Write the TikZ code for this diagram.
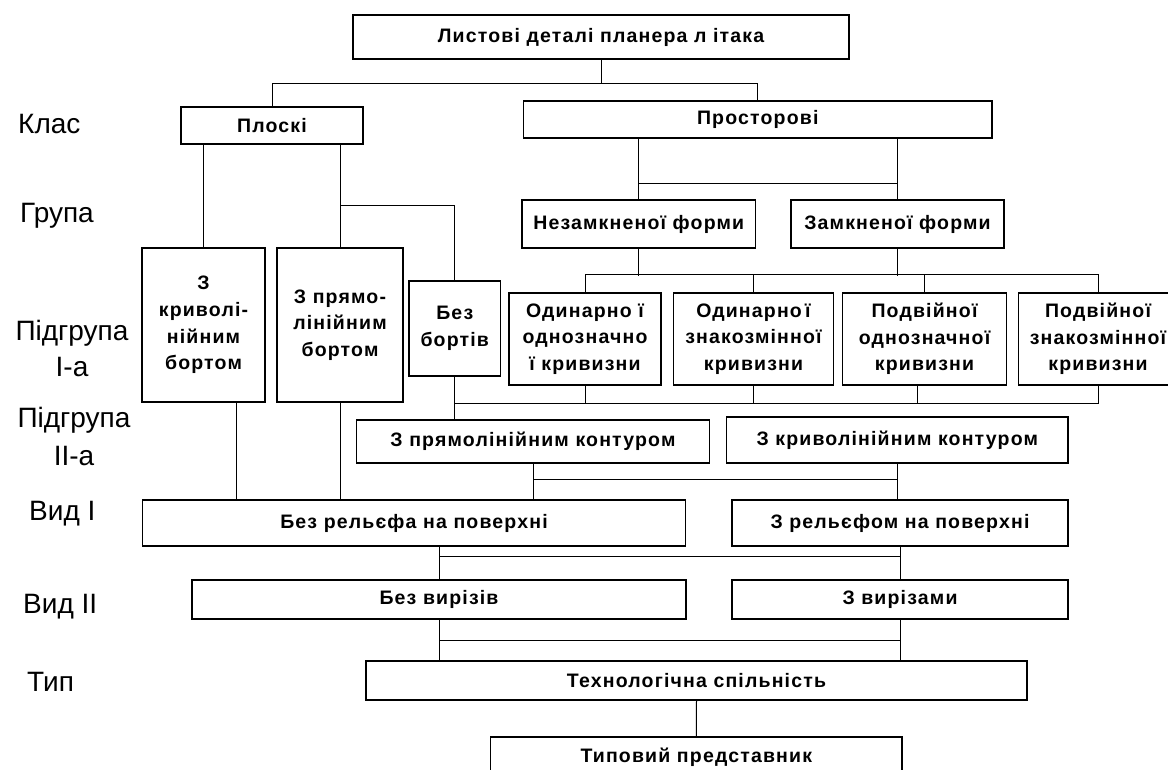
\documentclass[tikz,border=0pt]{standalone}
\usepackage{fontspec}
\setmainfont{Liberation Sans}
\newfontfamily\boxfont{Liberation Sans}[LetterSpace=6]
\usetikzlibrary{calc}

\begin{document}
\begin{tikzpicture}[x=1pt,y=-1pt,
  box/.style={draw, line width=1.1pt, inner sep=0pt, align=center,
    font=\boxfont\bfseries\fontsize{19.5pt}{26.7pt}\selectfont},
  lbl/.style={inner sep=0pt, font=\fontsize{28pt}{32pt}\selectfont},
  wire/.style={line width=1pt}]
\useasboundingbox (0,0) rectangle (1168,769);
\fill[white] (0,0) rectangle (1168,769);
\clip (0,0) rectangle (1168,769);

% level captions on the left
\node[lbl, anchor=base west] (lk) at (18,133) {Клас};
\node[lbl, anchor=base west] (lg) at (20,222) {Група};
\node[lbl, anchor=base] (lp1) at (72,340) {Підгрупа};
\node[lbl, anchor=base] (lp1n) at (72,376) {I-а};
\node[lbl, anchor=base] (lp2) at (74,427) {Підгрупа};
\node[lbl, anchor=base] (lp2n) at (74,465) {II-а};
\node[lbl, anchor=base west] (lv1) at (29,520) {Вид I};
\node[lbl, anchor=base west] (lv2) at (23,613) {Вид II};
\node[lbl, anchor=base west] (lt) at (27,691) {Тип};

% classification boxes
\node[box, minimum width=496, minimum height=44] (top) at (601,37) {Листові деталі планера л ітака};
\node[box, minimum width=182, minimum height=37] (ploski) at (272,125.5) {Плоскі};
\node[box, minimum width=468.5, minimum height=37] (prost) at (757.75,119.5) {Просторові};
\node[box, minimum width=233.5, minimum height=48] (nezam) at (638.75,224) {Незамкненої форми};
\node[box, minimum width=213, minimum height=48] (zam) at (897.5,224) {Замкненої форми};
\node[box, minimum width=123, minimum height=154] (kryvb) at (203.5,325) {З\\криволі-\\нійним\\бортом};
\node[box, minimum width=126, minimum height=154] (pryamb) at (340,325) {З прямо-\\лінійним\\бортом};
\node[box, minimum width=91.5, minimum height=95] (bezb) at (454.75,328.5) {Без\\бортів};
\node[box, minimum width=152, minimum height=92] (s1) at (585,339) {Одинарно ї\\однозначно\\ї кривизни};
\node[box, minimum width=160, minimum height=92] (s2) at (753.5,339) {Одинарно\,ї\\знакозмінної\\кривизни};
\node[box, minimum width=164, minimum height=92] (s3) at (924.5,339) {Подвійної\\однозначної\\кривизни};
\node[box, minimum width=159, minimum height=92] (s4) at (1098,339) {Подвійної\\знакозмінної\\кривизни};
\node[box, minimum width=352.8, minimum height=43] (pk) at (533,441.5) {З прямолінійним контуром};
\node[box, minimum width=341.4, minimum height=46] (kk) at (897.3,440) {З криволінійним контуром};
\node[box, minimum width=543.7, minimum height=46] (br) at (414,523) {Без рельєфа на поверхні};
\node[box, minimum width=336, minimum height=46] (zr) at (900,523) {З рельєфом на поверхні};
\node[box, minimum width=494, minimum height=39] (bv) at (439,599.5) {Без вирізів};
\node[box, minimum width=336, minimum height=39] (zv) at (900,599.5) {З вирізами};
\node[box, minimum width=661, minimum height=39] (tech) at (696.5,680.5) {Технологічна спільність};
\node[box, minimum width=411.4, minimum height=40] (typ) at (696.3,757) {Типовий представник};

% connectors
\draw[wire] (top.south) -- ++(0,24) coordinate (j1);
\draw[wire] (ploski.north) |- (j1) -| (prost.north);

\draw[wire] (kryvb.north |- ploski.south) -- (kryvb.north);
\draw[wire] (pryamb.north |- ploski.south) -- (pryamb.north);
\draw[wire] ($(pryamb.north)+(0,-42)$) -| (bezb.north);

\draw[wire] (nezam.north |- prost.south) -- (nezam.north);
\draw[wire] (zam.north |- prost.south) -- (zam.north);
\draw[wire] ($(nezam.north)+(0,-16)$) -- ($(zam.north)+(0,-16)$);

\draw[wire] (nezam.south) -- ++(0,27);
\draw[wire] (zam.south) -- ++(0,27);
\draw[wire] (s1.north) -- ++(0,-18) -| (s4.north);
\draw[wire] (s2.north) -- ++(0,-18);
\draw[wire] (s3.north) -- ++(0,-18);

\draw[wire] (s1.south) -- ++(0,18);
\draw[wire] (s2.south) -- ++(0,18);
\draw[wire] ($(s3.south)+(-7,0)$) -- ++(0,18);
\draw[wire] (bezb.south) -- (bezb.south |- pk.north);
\draw[wire] ($(bezb.south)+(0,27)$) -| (s4.south);

\coordinate (kb) at ($(kryvb.south)+(32.5,0)$);
\draw[wire] (kb) -- (kb |- br.north);
\draw[wire] (pryamb.south) -- (pryamb.south |- br.north);
\draw[wire] (pk.south) -- (pk.south |- br.north);
\draw[wire] (kk.south) -- (kk.south |- zr.north);
\draw[wire] ($(pk.south)+(0,16)$) -- ($(kk.south)+(0,16)$);

\draw[wire] (bv.north |- br.south) -- (bv.north);
\draw[wire] (zv.north |- zr.south) -- (zv.north);
\draw[wire] ($(bv.north)+(0,-23)$) -- ($(zv.north)+(0,-23)$);
\draw[wire] (bv.south) -- (bv.south |- tech.north);
\draw[wire] (zv.south) -- (zv.south |- tech.north);
\draw[wire] ($(bv.south)+(0,21)$) -- ($(zv.south)+(0,21)$);
\draw[wire] (tech.south) -- (typ.north);
\end{tikzpicture}
\end{document}
